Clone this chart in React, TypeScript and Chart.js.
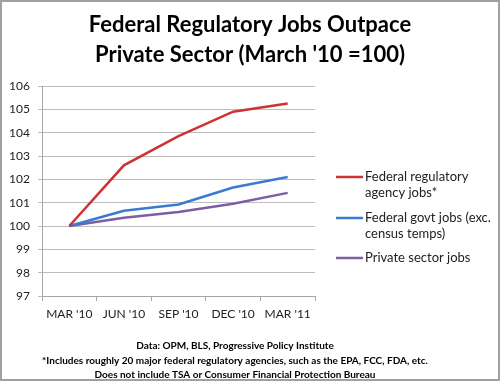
import React, { useEffect, useRef } from "react";
import { Chart, registerables } from "chart.js";

Chart.register(...registerables);

const categories = ["MAR '10", "JUN '10", "SEP '10", "DEC '10", "MAR '11"];
const regulatoryJobs = [100, 102.6, 103.85, 104.9, 105.25];
const federalJobs = [100, 100.65, 100.92, 101.65, 102.1];
const privateJobs = [100, 100.35, 100.6, 100.95, 101.42];
const legendLabels = [
  ["Federal regulatory", "agency jobs*"],
  ["Federal govt jobs (exc.", "census temps)"],
  ["Private sector jobs"],
];
const titleLines = ["Federal Regulatory Jobs Outpace", "Private Sector (March '10 =100)"];
const footerLines = [
  "Data: OPM, BLS, Progressive Policy Institute",
  "*Includes roughly 20 major federal regulatory agencies, such as the EPA, FCC, FDA, etc.",
  "Does not include TSA or Consumer Financial Protection Bureau",
];
const yMin = 97;
const yMax = 106;

const FONT = "Lato, 'Open Sans', sans-serif";

const textPlugin = {
  id: "textPlugin",
  afterDraw(chart: any) {
    const ctx = chart.ctx as CanvasRenderingContext2D;
    const w = chart.width;
    ctx.save();
    ctx.fillStyle = "#000";
    ctx.textAlign = "center";
    ctx.textBaseline = "middle";
    ctx.font = `bold 22px ${FONT}`;
    titleLines.forEach((t, i) => ctx.fillText(t, w / 2, 23 + i * 30));
    ctx.font = `bold 10px ${FONT}`;
    footerLines.forEach((t, i) => ctx.fillText(t, w / 2 - 15, 344 + i * 14.5));
    // legend
    const startX = 334;
    const rows = [175, 216, 256];
    ctx.textAlign = "left";
    ctx.font = `13px ${FONT}`;
    chart.data.datasets.forEach((ds: any, i: number) => {
      const y = rows[i];
      ctx.strokeStyle = ds.borderColor;
      ctx.lineWidth = 2.5;
      ctx.beginPath();
      ctx.moveTo(startX, y);
      ctx.lineTo(startX + 27, y);
      ctx.stroke();
      ctx.fillStyle = "#222";
      legendLabels[i].forEach((l, j) => ctx.fillText(l, startX + 29, y + j * 16));
    });
    ctx.restore();
  },
};

export default function App() {
  const ref = useRef<HTMLCanvasElement>(null);
  useEffect(() => {
    document.body.style.margin = "0";
    const chart = new Chart(ref.current!, {
      type: "line",
      data: {
        labels: categories,
        datasets: [
          { label: legendLabels[0].join(" "), data: regulatoryJobs, borderColor: "#cc3333", borderWidth: 2.5, pointRadius: 0, tension: 0 },
          { label: legendLabels[1].join(" "), data: federalJobs, borderColor: "#3a7bd2", borderWidth: 2.5, pointRadius: 0, tension: 0 },
          { label: legendLabels[2].join(" "), data: privateJobs, borderColor: "#7b5fa3", borderWidth: 2.5, pointRadius: 0, tension: 0 },
        ],
      },
      options: {
        animation: false,
        responsive: false,
        layout: { padding: { top: 84, left: 0, right: 183, bottom: 53 } },
        plugins: { legend: { display: false }, tooltip: { enabled: false }, title: { display: false } },
        scales: {
          x: {
            offset: true,
            afterFit(s: any) { s.height = 30; },
            grid: { drawOnChartArea: false, drawTicks: true, tickLength: 5, color: "#a6a6a6", offset: true },
            border: { color: "#a6a6a6", width: 1 },
            ticks: { color: "#222", font: { family: FONT, size: 12 }, padding: 6, maxRotation: 0, autoSkip: false },
          },
          y: {
            min: yMin,
            max: yMax,
            afterFit(s: any) { s.width = 40; },
            grid: { color: "#bdbdbd", lineWidth: 1, tickLength: 4 },
            border: { color: "#a6a6a6", width: 1 },
            ticks: { stepSize: 1, color: "#222", font: { family: FONT, size: 12 }, padding: 8 },
          },
        },
      },
      plugins: [textPlugin],
    });
    return () => chart.destroy();
  }, []);
  return (
    <div style={{ position: "fixed", left: 0, top: 0, width: 500, height: 381, boxSizing: "border-box", border: "2px solid #a0a0a0", background: "#fff" }}>
      <canvas ref={ref} width={496} height={377} style={{ display: "block" }} />
    </div>
  );
}
